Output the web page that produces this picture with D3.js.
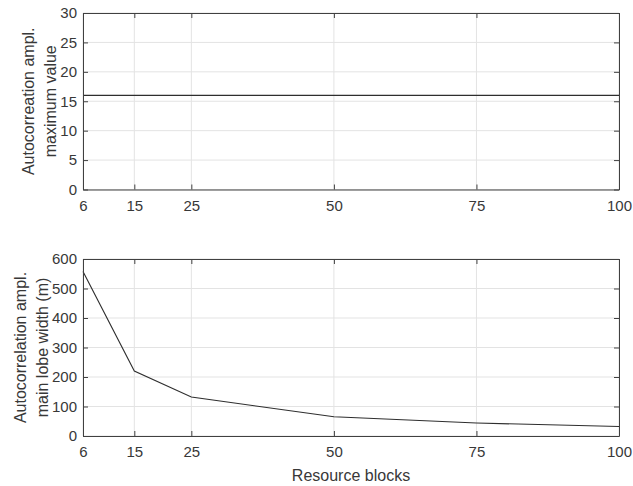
<!DOCTYPE html>
<html><head><meta charset="utf-8">
<script src="https://cdn.jsdelivr.net/npm/d3@7"></script>
<style>body{margin:0;background:#fff}svg{display:block;font-family:"Liberation Sans",Arial,sans-serif}</style>
</head><body>
<svg id="c" width="633" height="486"></svg>
<script>
const resourceBlocks = [6, 15, 25, 50, 75, 100];
const maxValue = [16, 16, 16, 16, 16, 16];
const lobeWidth = [558, 220, 132, 65, 44, 32];
const xTicks = [6, 15, 25, 50, 75, 100];
const yTicksTop = [0, 5, 10, 15, 20, 25, 30];
const yTicksBottom = [0, 100, 200, 300, 400, 500, 600];

const svg = d3.select("#c");
const L = 83, R = 619;
const x = d3.scaleLinear().domain([6, 100]).range([L, R]);
const axCol = "#404040", txtCol = "#383838";
const tickFs = 15, labFs = 16;

function panel(top, bottom, yMax, yTicks, vals, label1, label2, lx1, lx2) {
  const y = d3.scaleLinear().domain([0, yMax]).range([bottom, top]);
  const g = svg.append("g");
  g.selectAll(".gx").data(xTicks).join("line")
    .attr("x1", d => x(d)).attr("x2", d => x(d)).attr("y1", top).attr("y2", bottom)
    .attr("stroke", "#e3e3e3").attr("stroke-width", 1);
  g.selectAll(".gy").data(yTicks).join("line")
    .attr("y1", d => y(d)).attr("y2", d => y(d)).attr("x1", L).attr("x2", R)
    .attr("stroke", "#e3e3e3").attr("stroke-width", 1);
  g.append("path").datum(resourceBlocks.map((r, i) => [r, vals[i]]))
    .attr("d", d3.line().x(d => x(d[0])).y(d => y(d[1])))
    .attr("fill", "none").attr("stroke", "#2e2e2e").attr("stroke-width", 1.1);
  const ab = g.append("g").attr("transform", `translate(0,${bottom})`)
    .call(d3.axisBottom(x).tickValues(xTicks).tickSizeInner(-5).tickSizeOuter(0).tickPadding(10.5));
  const at = g.append("g").attr("transform", `translate(0,${top})`)
    .call(d3.axisTop(x).tickValues(xTicks).tickSizeInner(-5).tickSizeOuter(0).tickFormat(""));
  const al = g.append("g").attr("transform", `translate(${L},0)`)
    .call(d3.axisLeft(y).tickValues(yTicks).tickSizeInner(-5).tickSizeOuter(0).tickPadding(6));
  const ar = g.append("g").attr("transform", `translate(${R},0)`)
    .call(d3.axisRight(y).tickValues(yTicks).tickSizeInner(-5).tickSizeOuter(0).tickFormat(""));
  [ab, at, al, ar].forEach(a => {
    a.select(".domain").attr("stroke", axCol);
    a.selectAll(".tick line").attr("stroke", axCol);
    a.selectAll("text").attr("fill", txtCol).attr("font-size", tickFs)
      .attr("font-family", '"Liberation Sans",Arial,sans-serif');
  });
  const cy = (top + bottom) / 2;
  g.append("text").attr("transform", `translate(${lx1},${cy}) rotate(-90)`)
    .attr("text-anchor", "middle").attr("font-size", labFs).attr("fill", txtCol).text(label1);
  g.append("text").attr("transform", `translate(${lx2},${cy}) rotate(-90)`)
    .attr("text-anchor", "middle").attr("font-size", labFs).attr("fill", txtCol).text(label2);
}

panel(13, 189.5, 30, yTicksTop, maxValue, "Autocorreation ampl.", "maximum value", 34, 56);
panel(259, 436, 600, yTicksBottom, lobeWidth, "Autocorrelation ampl.", "main lobe width (m)", 26, 48);

svg.append("text").attr("x", (L + R) / 2).attr("y", 481).attr("text-anchor", "middle")
  .attr("font-size", labFs).attr("fill", txtCol).text("Resource blocks");
</script>
</body></html>
